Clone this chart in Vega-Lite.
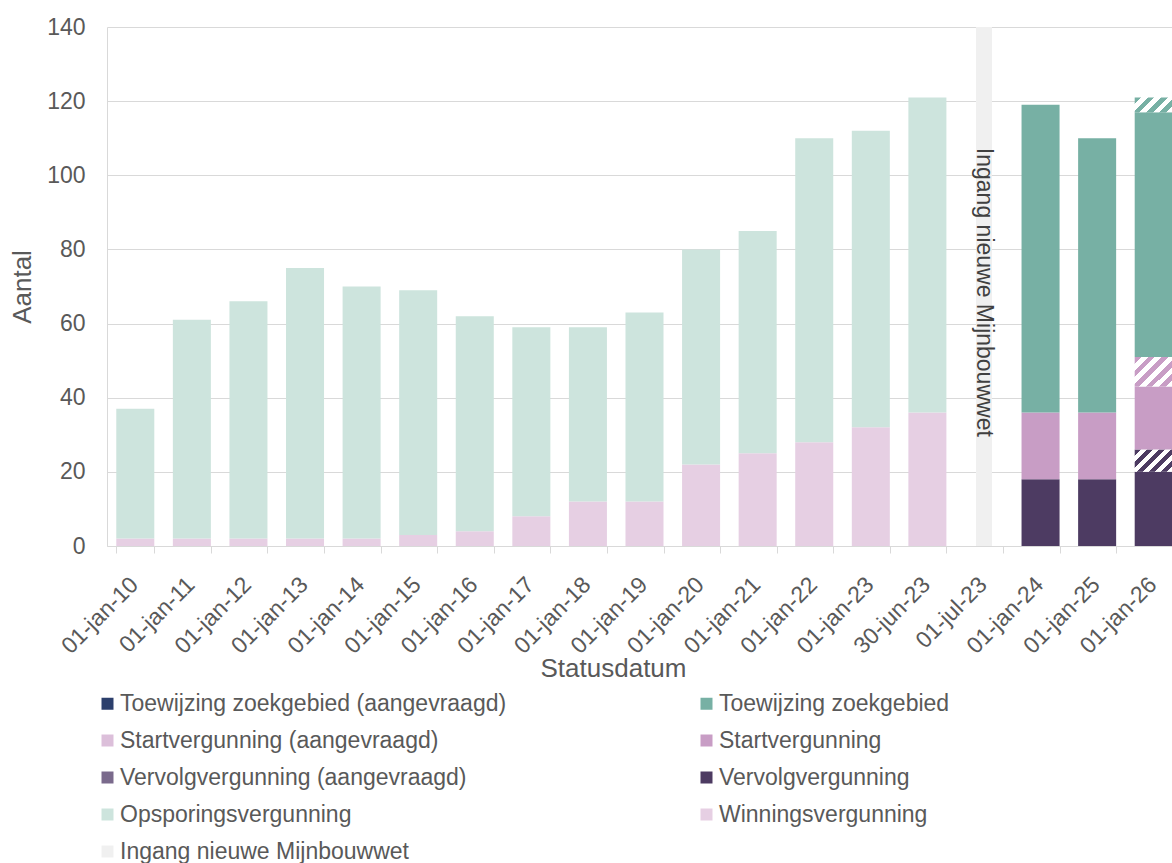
{
  "$schema": "https://vega.github.io/schema/vega-lite/v6.json",
  "width": 1075,
  "height": 519,
  "autosize": {"type": "none"},
  "padding": {"left": 107, "top": 27, "right": -10, "bottom": 317},
  "background": "white",
  "config": {
    "view": {"stroke": null},
    "font": "Liberation Sans",
    "axis": {"labelFont": "Liberation Sans", "titleFont": "Liberation Sans", "labelColor": "#595959", "titleColor": "#595959", "labelFontSize": 23, "titleFontSize": 26, "titleFontWeight": "normal"},
    "legend": {"labelFont": "Liberation Sans", "labelFontSize": 23, "labelColor": "#595959"}
  },
  "data": {"values": [
    {"d": "01-jan-10", "cat": "Winningsvergunning", "v": 2},
    {"d": "01-jan-10", "cat": "Opsporingsvergunning", "v": 35},
    {"d": "01-jan-11", "cat": "Winningsvergunning", "v": 2},
    {"d": "01-jan-11", "cat": "Opsporingsvergunning", "v": 59},
    {"d": "01-jan-12", "cat": "Winningsvergunning", "v": 2},
    {"d": "01-jan-12", "cat": "Opsporingsvergunning", "v": 64},
    {"d": "01-jan-13", "cat": "Winningsvergunning", "v": 2},
    {"d": "01-jan-13", "cat": "Opsporingsvergunning", "v": 73},
    {"d": "01-jan-14", "cat": "Winningsvergunning", "v": 2},
    {"d": "01-jan-14", "cat": "Opsporingsvergunning", "v": 68},
    {"d": "01-jan-15", "cat": "Winningsvergunning", "v": 3},
    {"d": "01-jan-15", "cat": "Opsporingsvergunning", "v": 66},
    {"d": "01-jan-16", "cat": "Winningsvergunning", "v": 4},
    {"d": "01-jan-16", "cat": "Opsporingsvergunning", "v": 58},
    {"d": "01-jan-17", "cat": "Winningsvergunning", "v": 8},
    {"d": "01-jan-17", "cat": "Opsporingsvergunning", "v": 51},
    {"d": "01-jan-18", "cat": "Winningsvergunning", "v": 12},
    {"d": "01-jan-18", "cat": "Opsporingsvergunning", "v": 47},
    {"d": "01-jan-19", "cat": "Winningsvergunning", "v": 12},
    {"d": "01-jan-19", "cat": "Opsporingsvergunning", "v": 51},
    {"d": "01-jan-20", "cat": "Winningsvergunning", "v": 22},
    {"d": "01-jan-20", "cat": "Opsporingsvergunning", "v": 58},
    {"d": "01-jan-21", "cat": "Winningsvergunning", "v": 25},
    {"d": "01-jan-21", "cat": "Opsporingsvergunning", "v": 60},
    {"d": "01-jan-22", "cat": "Winningsvergunning", "v": 28},
    {"d": "01-jan-22", "cat": "Opsporingsvergunning", "v": 82},
    {"d": "01-jan-23", "cat": "Winningsvergunning", "v": 32},
    {"d": "01-jan-23", "cat": "Opsporingsvergunning", "v": 80},
    {"d": "30-jun-23", "cat": "Winningsvergunning", "v": 36},
    {"d": "30-jun-23", "cat": "Opsporingsvergunning", "v": 85},
    {"d": "01-jul-23", "cat": "Ingang nieuwe Mijnbouwwet", "v": 140},
    {"d": "01-jan-24", "cat": "Vervolgvergunning", "v": 18},
    {"d": "01-jan-24", "cat": "Startvergunning", "v": 18},
    {"d": "01-jan-24", "cat": "Toewijzing zoekgebied", "v": 83},
    {"d": "01-jan-25", "cat": "Vervolgvergunning", "v": 18},
    {"d": "01-jan-25", "cat": "Startvergunning", "v": 18},
    {"d": "01-jan-25", "cat": "Toewijzing zoekgebied", "v": 74},
    {"d": "01-jan-26", "cat": "Vervolgvergunning", "v": 20},
    {"d": "01-jan-26", "cat": "Vervolgvergunning (aangevraagd)", "v": 6},
    {"d": "01-jan-26", "cat": "Startvergunning", "v": 17},
    {"d": "01-jan-26", "cat": "Startvergunning (aangevraagd)", "v": 8},
    {"d": "01-jan-26", "cat": "Toewijzing zoekgebied", "v": 66},
    {"d": "01-jan-26", "cat": "Toewijzing zoekgebied (aangevraagd)", "v": 4}
  ]},
  "transform": [
    {"calculate": "indexof(['Winningsvergunning','Opsporingsvergunning','Vervolgvergunning','Vervolgvergunning (aangevraagd)','Startvergunning','Startvergunning (aangevraagd)','Toewijzing zoekgebied','Toewijzing zoekgebied (aangevraagd)','Ingang nieuwe Mijnbouwwet'], datum.cat)", "as": "k"}
  ],
  "encoding": {
    "x": {
      "field": "d", "type": "nominal",
      "scale": {"domain": ["01-jan-10","01-jan-11","01-jan-12","01-jan-13","01-jan-14","01-jan-15","01-jan-16","01-jan-17","01-jan-18","01-jan-19","01-jan-20","01-jan-21","01-jan-22","01-jan-23","30-jun-23","01-jul-23","01-jan-24","01-jan-25","01-jan-26"], "paddingInner": 0.328, "paddingOuter": 0.164},
      "axis": {"title": "Statusdatum", "labelAngle": -45, "tickBand": "extent", "tickColor": "#d9d9d9", "tickSize": 7, "domainColor": "#d9d9d9", "labelPadding": 20, "labelOffset": -9, "grid": false, "titleX": 506, "titleY": 130, "titleBaseline": "alphabetic", "titleAlign": "center"}
    }
  },
  "layer": [
    {
      "transform": [{"filter": "datum.cat !== 'Ingang nieuwe Mijnbouwwet'"}],
      "mark": {"type": "bar", "width": {"band": 1}},
      "encoding": {
        "y": {"field": "v", "type": "quantitative", "stack": "zero",
          "scale": {"domain": [0, 140], "nice": false},
          "axis": {"title": "Aantal", "values": [0,20,40,60,80,100,120,140], "ticks": false, "labelPadding": 22, "gridColor": "#d9d9d9", "domainColor": "#d9d9d9", "titleX": -77, "titleY": 259.5, "titleBaseline": "alphabetic", "titleAlign": "center", "titleAngle": -90}},
        "order": {"field": "k", "type": "quantitative", "sort": "ascending"},
        "fill": {
          "field": "cat", "type": "nominal",
          "scale": {
            "domain": ["Toewijzing zoekgebied (aangevraagd)", "Startvergunning (aangevraagd)", "Vervolgvergunning (aangevraagd)", "Opsporingsvergunning", "Ingang nieuwe Mijnbouwwet", "Toewijzing zoekgebied", "Startvergunning", "Vervolgvergunning", "Winningsvergunning"],
            "range": ["#2c3f6c", "#dcbfda", "#7a6a8c", "#cde4dd", "#f0f0f0", "#77b0a4", "#c89dc5", "#4d3b62", "#e6cfe3"]
          },
          "legend": {"title": null, "orient": "none", "legendX": -11, "legendY": 665, "columns": 2, "columnPadding": 188, "rowPadding": 13, "symbolType": "square", "symbolSize": 144, "symbolStrokeWidth": 0, "labelOffset": 1, "labelLimit": 600, "padding": 0},
          "condition": [
            {"test": "datum.cat === 'Vervolgvergunning (aangevraagd)'", "value": {"gradient": "linear", "x1": 0, "y1": 0, "x2": 1.181, "y2": 0.691, "stops": [
              {"offset": 0, "color": "#4d3b62"}, {"offset": 0.1, "color": "#4d3b62"}, {"offset": 0.1, "color": "#ffffff"}, {"offset": 0.2, "color": "#ffffff"},
              {"offset": 0.2, "color": "#4d3b62"}, {"offset": 0.3, "color": "#4d3b62"}, {"offset": 0.3, "color": "#ffffff"}, {"offset": 0.4, "color": "#ffffff"},
              {"offset": 0.4, "color": "#4d3b62"}, {"offset": 0.5, "color": "#4d3b62"}, {"offset": 0.5, "color": "#ffffff"}, {"offset": 0.6, "color": "#ffffff"},
              {"offset": 0.6, "color": "#4d3b62"}, {"offset": 0.7, "color": "#4d3b62"}, {"offset": 0.7, "color": "#ffffff"}, {"offset": 0.8, "color": "#ffffff"},
              {"offset": 0.8, "color": "#4d3b62"}, {"offset": 0.9, "color": "#4d3b62"}, {"offset": 0.9, "color": "#ffffff"}, {"offset": 1, "color": "#ffffff"}]}},
            {"test": "datum.cat === 'Startvergunning (aangevraagd)'", "value": {"gradient": "linear", "x1": 0, "y1": 0, "x2": 1.106, "y2": 0.864, "stops": [
              {"offset": 0, "color": "#c89dc5"}, {"offset": 0.1, "color": "#c89dc5"}, {"offset": 0.1, "color": "#ffffff"}, {"offset": 0.2, "color": "#ffffff"},
              {"offset": 0.2, "color": "#c89dc5"}, {"offset": 0.3, "color": "#c89dc5"}, {"offset": 0.3, "color": "#ffffff"}, {"offset": 0.4, "color": "#ffffff"},
              {"offset": 0.4, "color": "#c89dc5"}, {"offset": 0.5, "color": "#c89dc5"}, {"offset": 0.5, "color": "#ffffff"}, {"offset": 0.6, "color": "#ffffff"},
              {"offset": 0.6, "color": "#c89dc5"}, {"offset": 0.7, "color": "#c89dc5"}, {"offset": 0.7, "color": "#ffffff"}, {"offset": 0.8, "color": "#ffffff"},
              {"offset": 0.8, "color": "#c89dc5"}, {"offset": 0.9, "color": "#c89dc5"}, {"offset": 0.9, "color": "#ffffff"}, {"offset": 1, "color": "#ffffff"}]}},
            {"test": "datum.cat === 'Toewijzing zoekgebied (aangevraagd)'", "value": {"gradient": "linear", "x1": 0, "y1": 0, "x2": 1.207, "y2": 0.471, "stops": [
              {"offset": 0, "color": "#77b0a4"}, {"offset": 0.125, "color": "#77b0a4"}, {"offset": 0.125, "color": "#ffffff"}, {"offset": 0.25, "color": "#ffffff"},
              {"offset": 0.25, "color": "#77b0a4"}, {"offset": 0.375, "color": "#77b0a4"}, {"offset": 0.375, "color": "#ffffff"}, {"offset": 0.5, "color": "#ffffff"},
              {"offset": 0.5, "color": "#77b0a4"}, {"offset": 0.625, "color": "#77b0a4"}, {"offset": 0.625, "color": "#ffffff"}, {"offset": 0.75, "color": "#ffffff"},
              {"offset": 0.75, "color": "#77b0a4"}, {"offset": 0.875, "color": "#77b0a4"}, {"offset": 0.875, "color": "#ffffff"}, {"offset": 1, "color": "#ffffff"}]}}
          ]
        }
      }
    },
    {
      "transform": [{"filter": "datum.cat === 'Ingang nieuwe Mijnbouwwet'"}],
      "mark": {"type": "bar", "width": 16},
      "encoding": {
        "y": {"field": "v", "type": "quantitative"},
        "fill": {"field": "cat", "type": "nominal"}
      }
    },
    {
      "transform": [{"filter": "datum.cat === 'Ingang nieuwe Mijnbouwwet'"}],
      "mark": {"type": "text", "angle": 90, "align": "left", "baseline": "middle", "fontSize": 23, "color": "#404040", "font": "Liberation Sans"},
      "encoding": {
        "y": {"datum": 107.4},
        "text": {"field": "cat"}
      }
    }
  ]
}
